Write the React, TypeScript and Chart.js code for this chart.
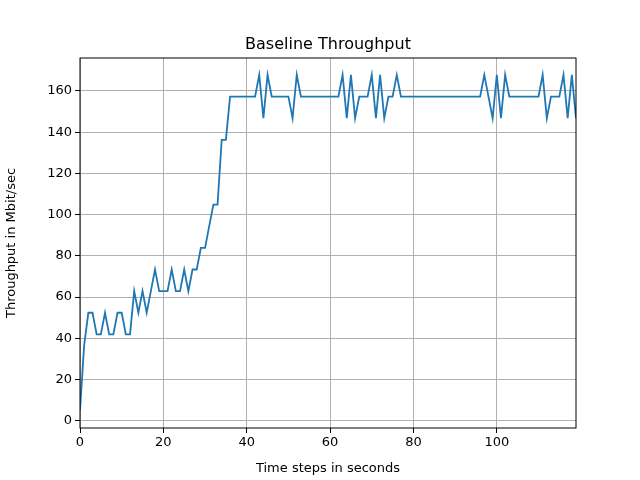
import { useEffect, useRef } from 'react';
import { Chart, registerables } from 'chart.js';

Chart.register(...registerables);

const seconds: number[] = Array.from({ length: 120 }, (_, i) => i);
const throughput: number[] = [
    5.2, 36.7, 52.4, 52.4, 41.9, 41.9, 52.4, 41.9, 41.9, 52.4,
    52.4, 41.9, 41.9, 62.9, 52.4, 62.9, 52.4, 62.9, 73.4, 62.9,
    62.9, 62.9, 73.4, 62.9, 62.9, 73.4, 62.9, 73.4, 73.4, 83.9,
    83.9, 94.4, 104.9, 104.9, 136.3, 136.3, 157.3, 157.3, 157.3, 157.3,
    157.3, 157.3, 157.3, 167.8, 146.8, 167.8, 157.3, 157.3, 157.3, 157.3,
    157.3, 146.8, 167.8, 157.3, 157.3, 157.3, 157.3, 157.3, 157.3, 157.3,
    157.3, 157.3, 157.3, 167.8, 146.8, 167.8, 146.8, 157.3, 157.3, 157.3,
    167.8, 146.8, 167.8, 146.8, 157.3, 157.3, 167.8, 157.3, 157.3, 157.3,
    157.3, 157.3, 157.3, 157.3, 157.3, 157.3, 157.3, 157.3, 157.3, 157.3,
    157.3, 157.3, 157.3, 157.3, 157.3, 157.3, 157.3, 167.8, 157.3, 146.8,
    167.8, 146.8, 167.8, 157.3, 157.3, 157.3, 157.3, 157.3, 157.3, 157.3,
    157.3, 167.8, 146.8, 157.3, 157.3, 157.3, 167.8, 146.8, 167.8, 146.8,
];
const xTicks: number[] = [0, 20, 40, 60, 80, 100];
const yTicks: number[] = [0, 20, 40, 60, 80, 100, 120, 140, 160];

const FONT = 'DejaVu Sans';

// title + frame drawn by hand, matplotlib style
const framePlugin = {
    id: 'frame',
    afterDraw(chart: Chart) {
        const { ctx, chartArea } = chart;
        ctx.save();
        ctx.strokeStyle = '#000';
        ctx.lineWidth = 1;
        ctx.strokeRect(chartArea.left, chartArea.top, chartArea.right - chartArea.left, chartArea.bottom - chartArea.top);
        ctx.fillStyle = '#000';
        ctx.font = `16px "${FONT}"`;
        ctx.textAlign = 'center';
        ctx.textBaseline = 'alphabetic';
        ctx.fillText('Baseline Throughput', (chartArea.left + chartArea.right) / 2, 49);
        ctx.restore();
    },
};

export default function App() {
    const canvasRef = useRef<HTMLCanvasElement>(null);
    const chartRef = useRef<Chart | null>(null);

    useEffect(() => {
        document.body.style.margin = '0';
        if (!canvasRef.current) return;
        if (chartRef.current) chartRef.current.destroy();

        chartRef.current = new Chart(canvasRef.current, {
            type: 'scatter',
            data: {
                datasets: [{
                    data: seconds.map((s, i) => ({ x: s, y: throughput[i] })),
                    showLine: true,
                    borderColor: '#1f77b4',
                    borderWidth: 1.8,
                    pointRadius: 0,
                    tension: 0,
                }],
            },
            options: {
                animation: false,
                responsive: false,
                layout: { padding: { top: 58, right: 64, left: 0, bottom: 0 } },
                plugins: { legend: { display: false }, tooltip: { enabled: false } },
                scales: {
                    x: {
                        type: 'linear',
                        min: 0,
                        max: 119,
                        afterBuildTicks: (axis: any) => { axis.ticks = xTicks.map(v => ({ value: v })); },
                        afterFit: (axis: any) => { axis.height = 52; },
                        grid: { color: '#b0b0b0', tickColor: '#000', tickLength: 5 },
                        border: { display: false },
                        ticks: { color: '#000', font: { family: FONT, size: 13 }, padding: 2 },
                        title: { display: true, text: 'Time steps in seconds', color: '#000', font: { family: FONT, size: 13 }, padding: { top: 0 } },
                    },
                    y: {
                        min: -3.5,
                        max: 176,
                        afterBuildTicks: (axis: any) => { axis.ticks = yTicks.map(v => ({ value: v })); },
                        afterFit: (axis: any) => { axis.width = 80; },
                        grid: { color: '#b0b0b0', tickColor: '#000', tickLength: 5 },
                        border: { display: false },
                        ticks: { color: '#000', font: { family: FONT, size: 13 }, padding: 3 },
                        title: { display: true, text: 'Throughput in Mbit/sec', color: '#000', font: { family: FONT, size: 13 }, padding: { bottom: 6 } },
                    },
                },
            },
            plugins: [framePlugin],
        });

        return () => {
            if (chartRef.current) {
                chartRef.current.destroy();
                chartRef.current = null;
            }
        };
    }, []);

    return (
        <div style={{ width: 640, height: 480, background: '#fff' }}>
            <canvas ref={canvasRef} width={640} height={480}></canvas>
        </div>
    );
}
